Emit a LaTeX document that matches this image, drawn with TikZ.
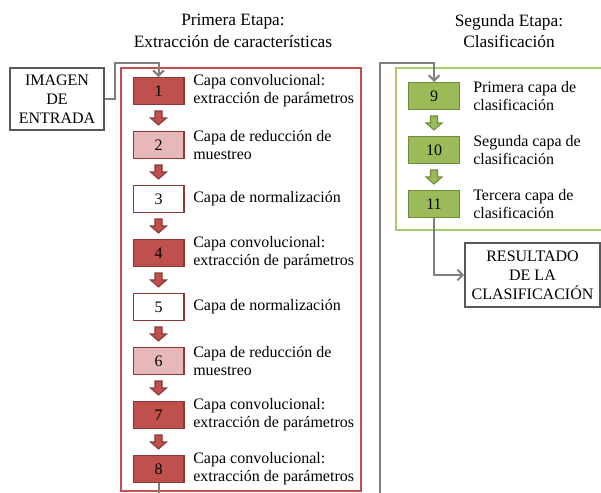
\documentclass[tikz,border=0pt]{standalone}
\usepackage{fontspec}
\setmainfont{Liberation Serif}
\usetikzlibrary{calc,arrows.meta}
\definecolor{rojo}{HTML}{C0504D}
\definecolor{rojoosc}{HTML}{8C3836}
\definecolor{rosa}{HTML}{E6B9B8}
\definecolor{verde}{HTML}{9BBB59}
\definecolor{verdeosc}{HTML}{71893F}
\definecolor{verdemarco}{HTML}{A9C96A}
\definecolor{gris}{HTML}{7F7F7F}
\definecolor{grisosc}{HTML}{595959}
\begin{document}
		\begin{tikzpicture}[x=0.75pt, y=-0.75pt, font=\fontsize{12}{13.5}\selectfont,
			capa/.style={draw=rojoosc, line width=1pt, minimum width=38pt, minimum height=20pt, inner sep=0pt},
			capaverde/.style={draw=verdeosc, fill=verde, line width=1pt, minimum width=38pt, minimum height=20pt, inner sep=0pt},
			etiqueta/.style={anchor=west, align=left, inner sep=0pt},
			caja/.style={draw=grisosc, line width=1.5pt, align=center, inner sep=0pt, font=\fontsize{12}{14.2}\selectfont},
			flechabloque/.pic={\filldraw[line width=0.8pt, pic actions] (-3.5,-7) -- (3.5,-7) -- (3.5,0) -- (8,0) -- (0,7) -- (-8,0) -- (-3.5,0) -- cycle;},
			conector/.style={gris, line width=1.5pt, -{Straight Barb[length=4pt, width=8pt]}}]
			\clip (0,0) rectangle (601,493);
			
			\node[align=center, font=\fontsize{13}{16}\selectfont] (titulo1) at (233,31) {Primera Etapa:\\Extracción de características};
			\node[align=center, font=\fontsize{13}{16}\selectfont] (titulo2) at (509,31) {Segunda Etapa:\\Clasificación};
			
			\draw[rojo, line width=1pt] (121,68) rectangle (361,491);
			\draw[verdemarco, line width=1.2pt] (396,68) rectangle (615,230);
			
			\node[caja, minimum width=70.5pt, minimum height=46.5pt] (entrada) at (57,99) {IMAGEN\\DE\\ENTRADA};
			
			\node[capa, fill=rojo] (c1) at (158.5,91) {1};
			\node[capa, fill=rosa] (c2) at (158.5,145) {2};
			\node[capa, fill=white] (c3) at (158.5,199) {3};
			\node[capa, fill=rojo] (c4) at (158.5,253) {4};
			\node[capa, fill=white] (c5) at (158.5,307) {5};
			\node[capa, fill=rosa] (c6) at (158.5,361) {6};
			\node[capa, fill=rojo] (c7) at (158.5,415) {7};
			\node[capa, fill=rojo] (c8) at (158.5,469) {8};
			
			\node[etiqueta] (t1) at (193,91) {Capa convolucional:\\extracción de parámetros};
			\node[etiqueta] (t2) at (193,145) {Capa de reducción de\\muestreo};
			\node[etiqueta] (t3) at (193,199) {Capa de normalización};
			\node[etiqueta] (t4) at (193,253) {Capa convolucional:\\extracción de parámetros};
			\node[etiqueta] (t5) at (193,307) {Capa de normalización};
			\node[etiqueta] (t6) at (193,361) {Capa de reducción de\\muestreo};
			\node[etiqueta] (t7) at (193,415) {Capa convolucional:\\extracción de parámetros};
			\node[etiqueta] (t8) at (193,469) {Capa convolucional:\\extracción de parámetros};
			
			\foreach \a/\b in {c1/c2, c2/c3, c3/c4, c4/c5, c5/c6, c6/c7, c7/c8}
				\pic[draw=rojoosc, fill=rojo] at ($(\a.south)!0.5!(\b.north)$) {flechabloque};
			
			\node[capaverde] (c9) at (434,96) {9};
			\node[capaverde] (c10) at (434,150) {10};
			\node[capaverde] (c11) at (434,204) {11};
			
			\node[etiqueta] (t9) at (473,96) {Primera capa de\\clasificación};
			\node[etiqueta] (t10) at (473,150) {Segunda capa de\\clasificación};
			\node[etiqueta] (t11) at (473,204) {Tercera capa de\\clasificación};
			
			\foreach \a/\b in {c9/c10, c10/c11}
				\pic[draw=verdeosc, fill=verde] at ($(\a.south)!0.5!(\b.north)$) {flechabloque};
			
			\node[caja, minimum width=101pt, minimum height=48pt] (resultado) at (532.5,275) {RESULTADO\\DE LA\\CLASIFICACIÓN};
			
			\draw[conector] (entrada.east) -| (115,63) -| (c1.north);
			\draw[conector] (c8.south) -- ++(0,30) -| (380,63) -| (c9.north);
			\draw[conector] (c11.south) |- (resultado.west);
			
		\end{tikzpicture}
\end{document}
